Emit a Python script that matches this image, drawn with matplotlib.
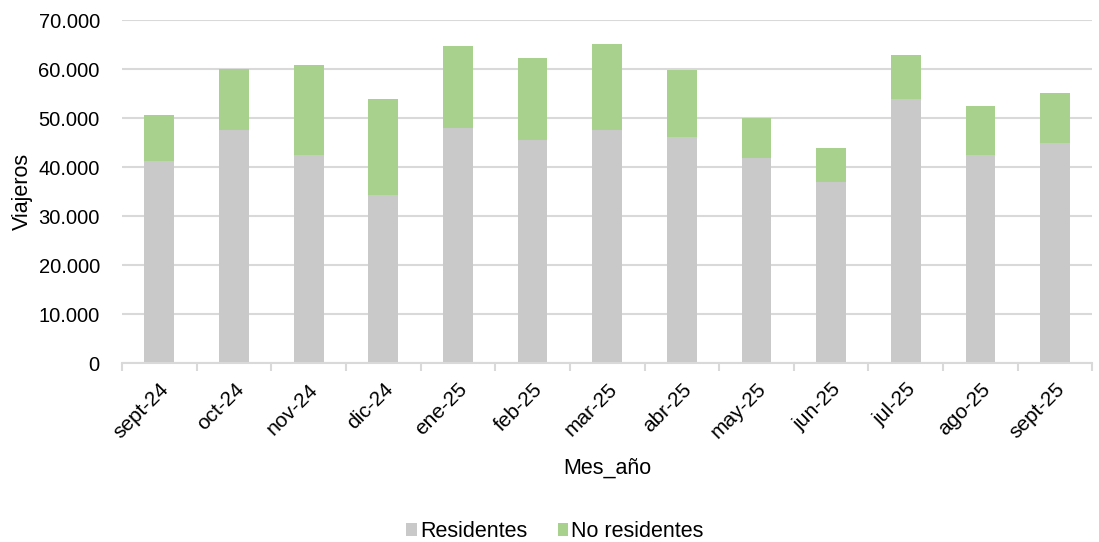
import numpy as np
import matplotlib.pyplot as plt
from matplotlib.ticker import FuncFormatter

plt.rcParams['font.family'] = ['Liberation Sans', 'DejaVu Sans']

meses = ['sept-24', 'oct-24', 'nov-24', 'dic-24', 'ene-25', 'feb-25', 'mar-25',
         'abr-25', 'may-25', 'jun-25', 'jul-25', 'ago-25', 'sept-25']
residentes = [41200, 47600, 42400, 34400, 47900, 45600, 47600,
              46100, 41800, 36900, 53900, 42400, 44900]
totales = [50600, 60000, 60800, 53900, 64800, 62300, 65200,
           59800, 50100, 43900, 62900, 52400, 55100]
no_residentes = [t - r for t, r in zip(totales, residentes)]

fig = plt.figure(figsize=(10.99, 5.42), dpi=100)
ax = fig.add_axes([0.111, 0.33, 0.883, 0.633])

x = np.arange(len(meses))
ax.bar(x, residentes, width=0.4, color='#C9C9C9', label='Residentes', zorder=2)
ax.bar(x, no_residentes, width=0.4, bottom=residentes, color='#A9D18E',
       label='No residentes', zorder=2)

ax.set_ylim(0, 70000)
ax.set_xlim(-0.5, len(meses) - 0.5)
ax.set_yticks(np.arange(0, 70001, 10000))
ax.yaxis.set_major_formatter(FuncFormatter(lambda v, p: f'{int(v):,}'.replace(',', '.')))
ax.grid(axis='y', color='#D9D9D9', linewidth=1.5, zorder=0)

ax.set_xticks(x)
ax.set_xticklabels(meses, rotation=45, ha='right', rotation_mode='anchor')
ax.set_xticks(np.arange(-0.5, len(meses)), minor=True)
ax.tick_params(axis='x', which='major', length=0, pad=12, labelsize=15)
ax.tick_params(axis='x', which='minor', length=6, color='#D9D9D9', width=1.5)
ax.tick_params(axis='y', length=0, labelsize=14.5, pad=16)

for s in ['top', 'right', 'left']:
    ax.spines[s].set_visible(False)
ax.spines['bottom'].set_color('#D9D9D9')
ax.spines['bottom'].set_linewidth(1.5)

ax.set_xlabel('Mes_año', fontsize=15.5, labelpad=11)
ax.set_ylabel('Viajeros', fontsize=15.5, labelpad=4)

fig.legend(loc='lower center', ncol=2, frameon=False, fontsize=15.5,
           bbox_to_anchor=(0.505, -0.036), handlelength=0.5, handleheight=0.5,
           columnspacing=1.4, handletextpad=0.15)

fig.savefig('out.png', dpi=100)
